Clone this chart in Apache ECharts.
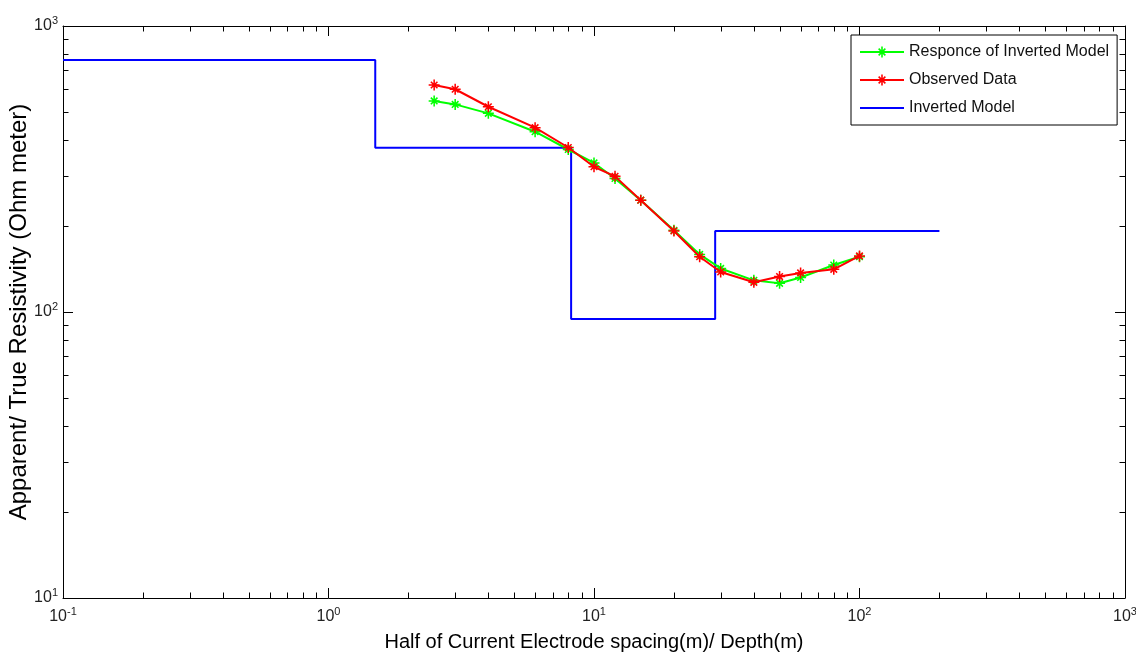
<!DOCTYPE html>
<html>
<head>
<meta charset="utf-8">
<title>Inverted Model</title>
<script src="https://cdn.jsdelivr.net/npm/echarts@6/dist/echarts.min.js"></script>
<style>
  html, body { margin: 0; padding: 0; background: #fff; }
  #chart { width: 1136px; height: 659px; }
</style>
</head>
<body>
<div id="chart"></div>
<script>
// half electrode spacing AB/2 (m)
const abHalf = [2.5, 3, 4, 6, 8, 10, 12, 15, 20, 25, 30, 40, 50, 60, 80, 100];
// apparent resistivity (Ohm m)
const observed = [622, 601, 522, 441, 376, 322, 298, 246, 192, 156, 138, 127, 133, 137, 141, 157];
const response = [547, 532, 495, 427, 370, 332, 293, 246, 193, 159, 142, 129, 126, 132, 146, 156];

// inverted layered model: layer bottoms (m) and true resistivities
const layerDepths = [1.5, 8.2, 28.6];
const layerRes = [760, 375, 94.5, 192];
const modelStart = 0.1;
const modelEnd = 200;

// axis ranges and minor ticks
const xDecades = [0.1, 1, 10, 100];
const yDecades = [10, 100];
const minorMult = [2, 3, 4, 5, 6, 7, 8, 9];

const seriesNames = ['Responce of Inverted Model', 'Observed Data', 'Inverted Model'];

// asterisk marker like matlab '*'
const STAR = 'path://M8.6 0L11.4 0L11.4 20L8.6 20Z M0 8.6L20 8.6L20 11.4L0 11.4Z ' +
    'M3 5L5 3L17 15L15 17Z M15 3L17 5L5 17L3 15Z';

// build the step model line
const modelLine = [];
let x0 = modelStart;
layerRes.forEach((r, i) => {
    const x1 = i < layerDepths.length ? layerDepths[i] : modelEnd;
    modelLine.push([x0, r], [x1, r]);
    x0 = x1;
});

const xMinor = [];
xDecades.forEach(d => minorMult.forEach(k => xMinor.push([d * k, 100])));
const yMinor = [];
yDecades.forEach(d => minorMult.forEach(k => yMinor.push([1, d * k])));

const FONT = '"Liberation Sans", Arial, sans-serif';

function powLabel(v) {
    const e = Math.round(Math.log10(v));
    return '{b|10}{e|' + e + '}';
}
const labelRich = {
    b: { fontSize: 16, fontFamily: FONT, color: '#222' },
    e: { fontSize: 11, fontFamily: FONT, color: '#222', padding: [0, 0, 10, 0] }
};

function minorTicks(dir) {
    return function (params, api) {
        const cs = params.coordSys;
        const p = api.coord([api.value(0), api.value(1)]);
        const style = { stroke: '#000', lineWidth: 1 };
        const len = 5.5;
        if (dir === 'x') {
            const x = Math.round(p[0]) + 0.5;
            return {
                type: 'group',
                children: [
                    { type: 'line', shape: { x1: x, y1: cs.y + cs.height, x2: x, y2: cs.y + cs.height - len }, style },
                    { type: 'line', shape: { x1: x, y1: cs.y, x2: x, y2: cs.y + len }, style }
                ]
            };
        }
        const y = Math.round(p[1]) + 0.5;
        return {
            type: 'group',
            children: [
                { type: 'line', shape: { x1: cs.x, y1: y, x2: cs.x + len, y2: y }, style },
                { type: 'line', shape: { x1: cs.x + cs.width, y1: y, x2: cs.x + cs.width - len, y2: y }, style }
            ]
        };
    };
}

const axisLine = { show: true, lineStyle: { color: '#000', width: 1 } };
const majorTick = { show: true, inside: true, length: 10, lineStyle: { color: '#000' } };

const chart = echarts.init(document.getElementById('chart'));
chart.setOption({
    animation: false,
    backgroundColor: '#fff',
    grid: { left: 63, right: 11, top: 26, bottom: 61, containLabel: false, outerBoundsMode: 'none' },
    legend: {
        data: [
            { name: seriesNames[0] },
            { name: seriesNames[1] },
            { name: seriesNames[2], itemStyle: { opacity: 0 } }
        ],
        orient: 'vertical',
        left: 851,
        top: 35,
        padding: [9, 8, 9, 8],
        itemWidth: 44,
        itemHeight: 14,
        itemGap: 12,
        borderColor: '#000',
        borderWidth: 1,
        backgroundColor: '#fff',
        textStyle: { fontSize: 16, fontFamily: FONT, color: '#111' }
    },
    xAxis: [{
        type: 'log',
        logBase: 10,
        min: 0.1,
        max: 1000,
        position: 'bottom',
        axisLine,
        axisTick: majorTick,
        splitLine: { show: false },
        axisLabel: { formatter: powLabel, rich: labelRich, margin: 8 },
        name: 'Half of Current Electrode spacing(m)/ Depth(m)',
        nameLocation: 'middle',
        nameGap: 34,
        nameMoveOverlap: false,
        nameTextStyle: { fontSize: 20, fontFamily: FONT, color: '#000' }
    }, {
        type: 'log',
        logBase: 10,
        min: 0.1,
        max: 1000,
        position: 'top',
        axisLine,
        axisTick: majorTick,
        splitLine: { show: false },
        axisLabel: { show: false }
    }],
    yAxis: [{
        type: 'log',
        logBase: 10,
        min: 10,
        max: 1000,
        position: 'left',
        axisLine,
        axisTick: majorTick,
        splitLine: { show: false },
        axisLabel: { formatter: powLabel, rich: labelRich, margin: 5 },
        name: 'Apparent/ True Resistivity (Ohm meter)',
        nameLocation: 'middle',
        nameGap: 32,
        nameMoveOverlap: false,
        nameTextStyle: { fontSize: 24, fontFamily: FONT, color: '#000' }
    }, {
        type: 'log',
        logBase: 10,
        min: 10,
        max: 1000,
        position: 'right',
        axisLine,
        axisTick: majorTick,
        splitLine: { show: false },
        axisLabel: { show: false }
    }],
    series: [{
        name: seriesNames[2],
        type: 'line',
        data: modelLine,
        symbol: 'none',
        lineStyle: { color: '#0000ff', width: 2 },
        itemStyle: { color: '#0000ff' },
        z: 2
    }, {
        name: seriesNames[0],
        type: 'line',
        data: abHalf.map((x, i) => [x, response[i]]),
        symbol: STAR,
        symbolSize: 11,
        lineStyle: { color: '#00ff00', width: 2 },
        itemStyle: { color: '#00ff00' },
        z: 3
    }, {
        name: seriesNames[1],
        type: 'line',
        data: abHalf.map((x, i) => [x, observed[i]]),
        symbol: STAR,
        symbolSize: 11,
        lineStyle: { color: '#ff0000', width: 2 },
        itemStyle: { color: '#ff0000' },
        z: 4
    }, {
        type: 'custom',
        renderItem: minorTicks('x'),
        data: xMinor,
        clip: false,
        silent: true
    }, {
        type: 'custom',
        renderItem: minorTicks('y'),
        data: yMinor,
        clip: false,
        silent: true
    }]
});
</script>
</body>
</html>
